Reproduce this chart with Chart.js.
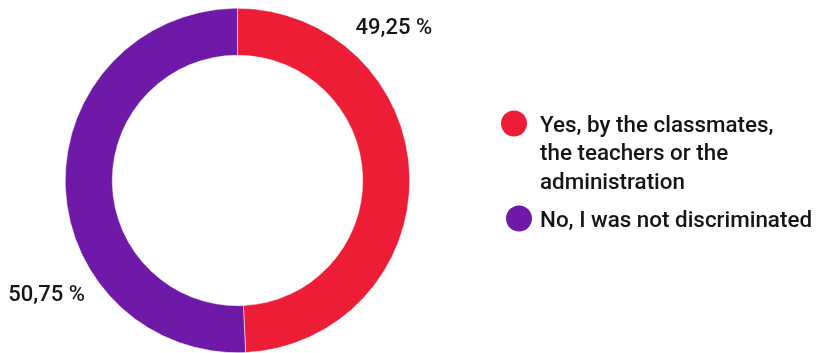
<!DOCTYPE html>
<html>
<head>
<meta charset="utf-8">
<script src="https://cdn.jsdelivr.net/npm/chart.js@4/dist/chart.umd.min.js"></script>
<style>
  html, body { margin: 0; padding: 0; background: #fff; }
  #wrap { width: 817px; height: 353px; position: relative; }
</style>
</head>
<body>
<div id="wrap"><canvas id="chart-doughnut" width="817" height="353"></canvas></div>
<script>
const answers = [
    ["Yes, by the classmates,", "the teachers or the", "administration"],
    "No, I was not discriminated",
];
const shares = [49.25, 50.75];
const shareLabels = ["49,25 %", "50,75 %"];
const sliceColors = ["#ee1d36", "#6e19a7"];

const FONT = "Roboto";
const TEXT_COLOR = "#141414";

// where each percentage sits: angle (deg, clockwise from top) and distance from centre
const valuePlacement = [
    { angle: 45.8, dist: 218 },
    { angle: 238.9, dist: 223 },
];

// legend rows on the right: marker centre x, first text baseline
const legendRows = [
    { markerX: 514, baseline: 131.5 },
    { markerX: 519, baseline: 226.5 },
];
const legendTextX = 540;
const legendLineHeight = 28.7;

const valueLabels = {
    id: "valueLabels",
    afterDatasetsDraw(chart) {
        const ctx = chart.ctx;
        const arcs = chart.getDatasetMeta(0).data;
        ctx.save();
        ctx.font = "500 22px " + FONT;
        ctx.fillStyle = TEXT_COLOR;
        ctx.textAlign = "center";
        ctx.textBaseline = "middle";
        arcs.forEach((arc, i) => {
            const p = valuePlacement[i];
            const a = (p.angle - 90) * Math.PI / 180;
            ctx.fillText(shareLabels[i], arc.x + Math.cos(a) * p.dist, arc.y + Math.sin(a) * p.dist);
        });
        ctx.restore();
    },
};

const sideLegend = {
    id: "sideLegend",
    afterDraw(chart) {
        const ctx = chart.ctx;
        const colors = chart.data.datasets[0].backgroundColor;
        ctx.save();
        ctx.font = "500 22.4px " + FONT;
        ctx.textBaseline = "alphabetic";
        ctx.textAlign = "left";
        chart.data.labels.forEach((label, i) => {
            const row = legendRows[i];
            const lines = Array.isArray(label) ? label : [label];
            ctx.fillStyle = colors[i];
            ctx.beginPath();
            ctx.arc(row.markerX, row.baseline - 8, 13, 0, Math.PI * 2);
            ctx.fill();
            ctx.fillStyle = TEXT_COLOR;
            lines.forEach((line, j) => {
                ctx.fillText(line, legendTextX, row.baseline + j * legendLineHeight);
            });
        });
        ctx.restore();
    },
};

new Chart(document.getElementById("chart-doughnut"), {
    type: "doughnut",
    data: {
        labels: answers,
        datasets: [
            {
                data: shares,
                backgroundColor: sliceColors,
                borderColor: "#ffffff",
                borderWidth: 0.5,
                hoverOffset: 0,
            },
        ],
    },
    options: {
        responsive: false,
        animation: false,
        cutout: "72.7%",
        rotation: 0,
        layout: {
            padding: { left: 65, right: 407, top: 8, bottom: 0 },
        },
        plugins: {
            legend: { display: false },
            tooltip: { enabled: false },
        },
    },
    plugins: [valueLabels, sideLegend],
});
</script>
</body>
</html>
